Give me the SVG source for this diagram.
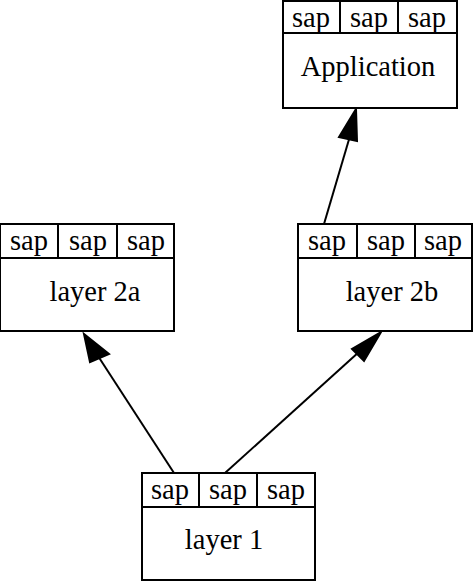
<svg xmlns="http://www.w3.org/2000/svg" width="474" height="582" viewBox="0 0 474 582">
<style>
.box{fill:#fff;stroke:#000;stroke-width:2}
.ln{stroke:#000;stroke-width:2;fill:none}
.t{font-family:'Liberation Serif','Times New Roman',serif;font-size:28.5px;fill:#000;text-anchor:middle}
.edge{stroke:#000;stroke-width:2;fill:none}
.head{fill:#000;stroke:#000;stroke-width:2}
</style>
<rect width="474" height="582" fill="#fff"/>
<g id="connectors">
<line class="edge" x1="174" y1="473" x2="98" y2="356"/>
<polygon class="head" points="84,334 90,362 109,354"/>
<line class="edge" x1="225" y1="473" x2="360" y2="351"/>
<polygon class="head" points="381,332 352,349 364,361"/>
<line class="edge" x1="324" y1="224" x2="350" y2="136"/>
<polygon class="head" points="356,109 339,137 357,141"/>
</g>
<g id="application">
<rect class="box" x="283" y="1" width="174" height="107"/>
<line class="ln" x1="283" y1="33" x2="457" y2="33"/>
<line class="ln" x1="340" y1="1" x2="340" y2="33"/>
<line class="ln" x1="398" y1="1" x2="398" y2="33"/>
<text class="t" x="311" y="27">sap</text>
<text class="t" x="369" y="27">sap</text>
<text class="t" x="427" y="27">sap</text>
<text class="t" x="368" y="76">Application</text>
</g>
<g id="layer2a">
<rect class="box" x="0" y="224" width="174" height="107"/>
<line class="ln" x1="0" y1="258" x2="174" y2="258"/>
<line class="ln" x1="58" y1="224" x2="58" y2="258"/>
<line class="ln" x1="117" y1="224" x2="117" y2="258"/>
<text class="t" x="29" y="250">sap</text>
<text class="t" x="88" y="250">sap</text>
<text class="t" x="146" y="250">sap</text>
<text class="t" x="95" y="301">layer 2a</text>
</g>
<g id="layer2b">
<rect class="box" x="298" y="224" width="174" height="107"/>
<line class="ln" x1="298" y1="258" x2="472" y2="258"/>
<line class="ln" x1="357" y1="224" x2="357" y2="258"/>
<line class="ln" x1="415" y1="224" x2="415" y2="258"/>
<text class="t" x="327" y="250">sap</text>
<text class="t" x="386" y="250">sap</text>
<text class="t" x="443" y="250">sap</text>
<text class="t" x="392" y="301">layer 2b</text>
</g>
<g id="layer1">
<rect class="box" x="142" y="473" width="173" height="107"/>
<line class="ln" x1="142" y1="507" x2="315" y2="507"/>
<line class="ln" x1="199" y1="473" x2="199" y2="507"/>
<line class="ln" x1="257" y1="473" x2="257" y2="507"/>
<text class="t" x="170" y="499">sap</text>
<text class="t" x="228" y="499">sap</text>
<text class="t" x="286" y="499">sap</text>
<text class="t" x="224" y="549">layer 1</text>
</g>
</svg>
